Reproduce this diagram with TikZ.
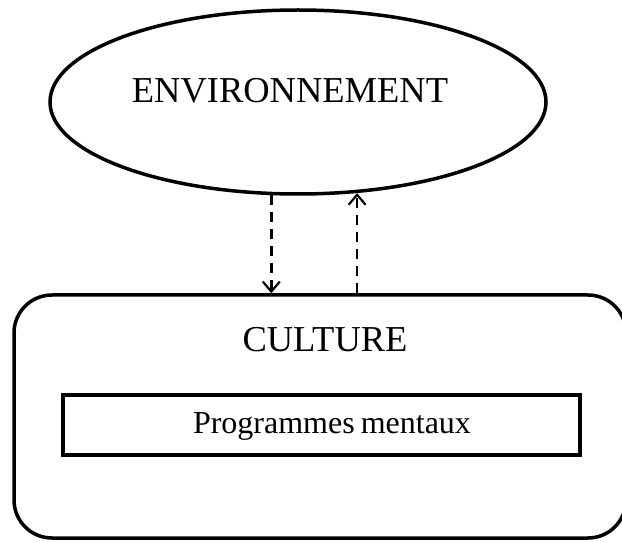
\documentclass[tikz,border=0pt]{standalone}
\usepackage{fontspec}
\setmainfont{Liberation Serif}
\usetikzlibrary{shapes.geometric,arrows.meta}
\begin{document}
\begin{tikzpicture}[x=1pt,y=1pt,
  shapeline/.style={draw=black,line width=3.5pt},
  flow/.style={dash pattern=on 10pt off 7pt,line width=2.5pt,-{Straight Barb[length=10pt,width=17pt,line width=2.2pt]}},
  bigtext/.style={font=\fontsize{36.5}{40}\selectfont,inner sep=0pt,anchor=base},
  smalltext/.style={font=\fontsize{32}{36}\selectfont,inner sep=0pt,anchor=base}]
\useasboundingbox (0,0) rectangle (622,542);
\node[shapeline,ellipse,minimum width=496pt,minimum height=184pt,inner sep=0pt] (env) at (298,440) {};
\node[bigtext] (envtext) at (290,439) {ENVIRONNEMENT};
\node[shapeline,rounded corners=38pt,minimum width=612pt,minimum height=243pt,inner sep=0pt] (cult) at (320,125.5) {};
\node[bigtext] (culttext) at (325,190) {CULTURE};
\node[draw=black,line width=4.5pt,minimum width=517pt,minimum height=60pt,inner sep=0pt] (prog) at (321.5,117) {};
\node[smalltext] (progtext) at (332,109) {Programmes\hspace{-2pt} mentaux};
\draw[flow] (env.254) -- (env.254 |- cult.north);
\draw[flow] (env.303 |- cult.north) -- (env.303);
\end{tikzpicture}
\end{document}
